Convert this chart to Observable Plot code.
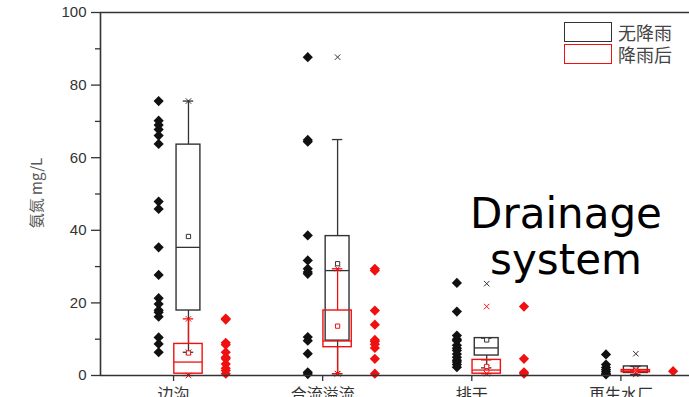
<!DOCTYPE html>
<html>
<head>
<meta charset="utf-8">
<script src="https://cdn.jsdelivr.net/npm/d3@7"></script>
<script src="https://cdn.jsdelivr.net/npm/@observablehq/plot@0.6"></script>
<style>
  html, body { margin: 0; padding: 0; background: #fff; }
  #wrap { position: relative; width: 689px; height: 397px; overflow: hidden; }
  .ov { position: absolute; white-space: nowrap; }
  .legbox { position: absolute; width: 46px; height: 18px; border: 1.5px solid #333; background: #fff; }
  .legtxt { position: absolute; font: 18px "Noto Sans CJK SC", sans-serif; color: #444; line-height: 20px; }
</style>
</head>
<body>
<div id="wrap"></div>
<script>
// ---- data ----
const categories = ["边沟", "合流溢流", "排干", "再生水厂"];
const seriesNames = ["无降雨", "降雨后"];

// individual samples (mg/L)
const dryPoints = [
  [75.6, 70.2, 69.0, 67.8, 66.1, 63.8, 47.9, 45.9, 35.3, 27.7, 21.3, 19.7, 18.0, 17.4, 16.2, 10.5, 8.7, 6.4],
  [87.7, 64.9, 64.4, 38.6, 31.7, 29.4, 28.5, 28.0, 10.6, 9.6, 6.0, 0.9, 0.4],
  [25.5, 17.6, 11.0, 10.0, 9.6, 8.3, 7.5, 6.9, 5.9, 5.0, 4.2, 3.7, 3.0, 2.3],
  [5.8, 3.0, 2.2, 1.6, 1.0, 0.5, 0.3]
];
const wetPoints = [
  [15.7, 15.4, 9.0, 8.5, 6.4, 5.0, 4.6, 3.2, 2.0, 1.4, 0.5],
  [29.4, 28.9, 17.9, 14.0, 9.8, 9.4, 8.6, 7.6, 4.6, 0.5],
  [19.0, 4.6, 0.9, 0.5],
  [1.2]
];

// box statistics, no rain
const dryQ1 = [17.9, 9.6, 5.5, 0.7];
const dryMedian = [35.3, 28.9, 7.6, 1.6];
const dryQ3 = [63.6, 38.4, 10.3, 2.5];
const dryMean = [38.3, 30.8, 9.8, 1.8];
const dryWhiskerLo = [6.4, 0.5, 2.1, 0.3];
const dryWhiskerHi = [75.6, 65.0, 10.3, 2.5];
const dryMax = [75.6, 87.7, 25.3, 6.0];
const dryMin = [6.4, 0.5, 2.1, 0.3];

// box statistics, after rain
const wetQ1 = [0.5, 7.8, 0.5, 0.9];
const wetMedian = [3.7, 9.5, 1.5, 1.2];
const wetQ3 = [8.7, 17.9, 4.3, 1.5];
const wetMean = [6.2, 13.6, 2.5, 1.2];
const wetWhiskerLo = [0.0, 0.5, 0.5, 0.9];
const wetWhiskerHi = [15.6, 29.4, 4.3, 1.5];
const wetMax = [15.6, 29.4, 19.0, 1.5];
const wetMin = [0.0, 0.5, 0.5, 0.9];

const yTicks = [0, 20, 40, 60, 80, 100];
const yMinorTicks = [10, 30, 50, 70, 90];

// ---- build tables ----
const BLACK = "#111", RED = "#f01010", AXIS = "#333";
const dryRows = dryPoints.flatMap((vs, ci) => vs.map(v => ({ci, v})));
const wetRows = wetPoints.flatMap((vs, ci) => vs.map(v => ({ci, v})));
const mkStats = (q1, md, q3, mn, wl, wh, mx, mi) =>
  categories.map((c, ci) => ({ci, q1: q1[ci], md: md[ci], q3: q3[ci], mean: mn[ci], wl: wl[ci], wh: wh[ci], mx: mx[ci], mi: mi[ci]}));
const dryStats = mkStats(dryQ1, dryMedian, dryQ3, dryMean, dryWhiskerLo, dryWhiskerHi, dryMax, dryMin);
const wetStats = mkStats(wetQ1, wetMedian, wetQ3, wetMean, wetWhiskerLo, wetWhiskerHi, wetMax, wetMin);

// layout offsets within a category (in category units)
const DOT_OFF = -0.10, BOX_OFF = 0.10, RED_DOT_OFF = 0.35;
const HW_DRY = 0.08, HW_WET = 0.095, CAP = 0.035;

function boxMarks(stats, color, hw) {
  return [
    Plot.ruleX(stats, {x: d => d.ci + BOX_OFF, y1: "wl", y2: "q1", stroke: color, strokeWidth: 1.3}),
    Plot.ruleX(stats, {x: d => d.ci + BOX_OFF, y1: "q3", y2: "wh", stroke: color, strokeWidth: 1.3}),
    Plot.ruleY(stats, {y: "wl", x1: d => d.ci + BOX_OFF - CAP, x2: d => d.ci + BOX_OFF + CAP, stroke: color, strokeWidth: 1.3}),
    Plot.ruleY(stats, {y: "wh", x1: d => d.ci + BOX_OFF - CAP, x2: d => d.ci + BOX_OFF + CAP, stroke: color, strokeWidth: 1.3}),
    Plot.rect(stats, {x1: d => d.ci + BOX_OFF - hw, x2: d => d.ci + BOX_OFF + hw, y1: "q1", y2: "q3", fill: "none", stroke: color, strokeWidth: 1.4}),
    Plot.ruleY(stats, {y: "md", x1: d => d.ci + BOX_OFF - hw, x2: d => d.ci + BOX_OFF + hw, stroke: color, strokeWidth: 1.3}),
    Plot.dot(stats, {x: d => d.ci + BOX_OFF, y: "mean", symbol: "square", r: 2.4, fill: "white", stroke: color, strokeWidth: 1}),
    Plot.dot(stats, {x: d => d.ci + BOX_OFF, y: "mx", symbol: "times", r: 2.6, stroke: color, strokeWidth: 1}),
    Plot.dot(stats, {x: d => d.ci + BOX_OFF, y: "mi", symbol: "times", r: 2.6, stroke: color, strokeWidth: 1})
  ];
}

const chart = Plot.plot({
  width: 689,
  height: 397,
  marginLeft: 100,
  marginRight: 0,
  marginTop: 12,
  marginBottom: 22,
  style: {fontFamily: "'Liberation Sans', Arial, sans-serif", background: "white", overflow: "hidden"},
  x: {type: "linear", domain: [-0.49, 3.46]},
  y: {domain: [0, 100]},
  marks: [
    Plot.axisY({ticks: yTicks, tickSize: 9, tickPadding: 5, fontSize: 15, color: AXIS, strokeWidth: 1.3, label: null}),
    Plot.axisY({ticks: yMinorTicks, tickSize: 5, tickFormat: () => "", color: AXIS, strokeWidth: 1.3, label: null}),
    Plot.axisX({ticks: [0, 1, 2, 3], tickFormat: i => categories[i], tickSize: 6, tickPadding: 7, fontSize: 16,
      fontFamily: "'Noto Sans CJK SC', sans-serif", color: AXIS, strokeWidth: 1.3, label: null}),
    ...boxMarks(dryStats, "#333", HW_DRY),
    ...boxMarks(wetStats, RED, HW_WET),
    Plot.dot(dryRows, {x: d => d.ci + DOT_OFF, y: "v", symbol: "diamond2", r: 4.6, fill: BLACK}),
    Plot.dot(wetRows, {x: d => d.ci + RED_DOT_OFF, y: "v", symbol: "diamond2", r: 4.6, fill: RED}),
    Plot.ruleY([0], {stroke: AXIS, strokeWidth: 1.6}),
    Plot.ruleY([100], {stroke: AXIS, strokeWidth: 1.6}),
    Plot.ruleX([-0.49], {stroke: AXIS, strokeWidth: 1.6})
  ]
});

const wrap = document.getElementById("wrap");
wrap.appendChild(chart);

// y-axis title
const yl = document.createElement("div");
yl.className = "ov";
yl.textContent = "氨氮 mg/L";
Object.assign(yl.style, {left: "35px", top: "193px", transform: "translate(-50%,-50%) rotate(-90deg)",
  font: "15px 'Noto Sans CJK SC', sans-serif", color: "#555"});
wrap.appendChild(yl);

// legend
const legColors = ["#333", RED];
seriesNames.forEach((name, i) => {
  const b = document.createElement("div");
  b.className = "legbox";
  Object.assign(b.style, {left: "564px", top: (22 + i * 22) + "px", borderColor: legColors[i]});
  wrap.appendChild(b);
  const t = document.createElement("div");
  t.className = "legtxt";
  t.textContent = name;
  Object.assign(t.style, {left: "618px", top: (22 + i * 22) + "px"});
  wrap.appendChild(t);
});

// annotation
const ann = document.createElement("div");
ann.className = "ov";
ann.innerHTML = "Drainage<br>system";
Object.assign(ann.style, {left: "466px", top: "191px", width: "200px", textAlign: "center",
  font: "42px 'DejaVu Sans', sans-serif", lineHeight: "46px", color: "#000"});
wrap.appendChild(ann);
</script>
</body>
</html>
